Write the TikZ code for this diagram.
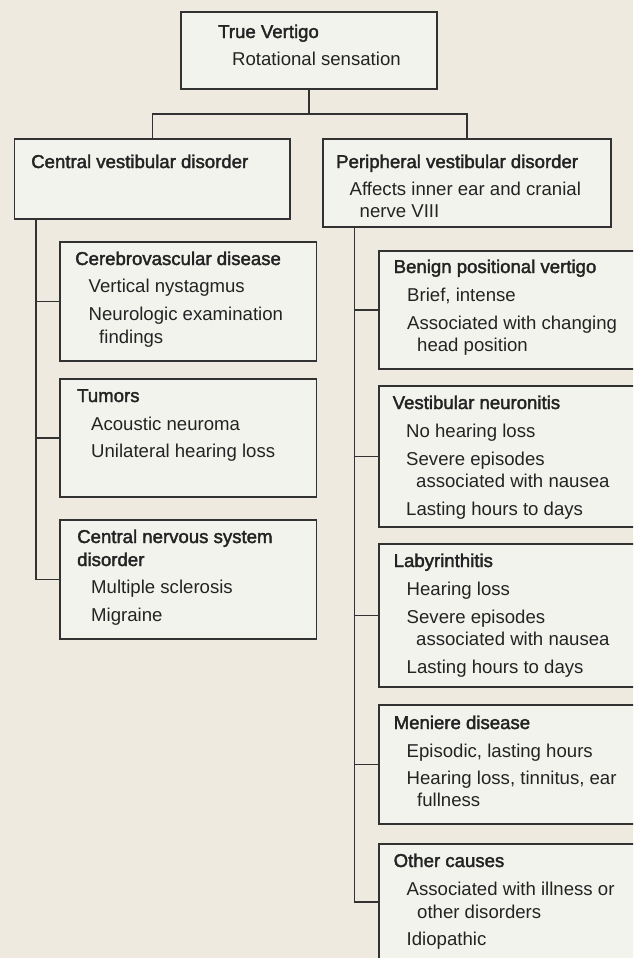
\documentclass[tikz,border=0pt]{standalone}
\usepackage{fontspec}
\setmainfont{Liberation Sans}
\newfontfamily\tifont[FakeBold=2]{Liberation Sans}
\definecolor{bgc}{RGB}{238,234,224}
\definecolor{boxc}{RGB}{243,243,238}
\definecolor{linec}{RGB}{50,50,50}
\definecolor{txtc}{RGB}{35,35,35}
\tikzset{
  boxst/.style={draw=linec, fill=boxc, line width=1.3pt, inner sep=0pt, outer sep=0pt, anchor=north west},
  conn/.style={draw=linec, line width=1.1pt},
  txt/.style={inner sep=0pt, anchor=base west, text=txtc, font=\fontsize{18.6}{22}\selectfont},
  ttl/.style={txt, font=\fontsize{18.6}{22}\selectfont\tifont}
}
\newcommand\bx[5]{\node[boxst, minimum width=#4pt, minimum height=#5pt] (#1) at (#2,#3) {};}
\newcommand\tx[4]{\node[txt] (#1) at (#2,#3) {#4};}
\newcommand\ttx[4]{\node[ttl] (#1) at (#2,#3) {#4};}
\begin{document}
\begin{tikzpicture}[x=1pt,y=-1pt]
\useasboundingbox (0,0) rectangle (633,958);
\fill[bgc] (0,0) rectangle (633,958);
\clip (0,0) rectangle (633,958);

% boxes
\bx{top}{181}{12}{256}{77}
\bx{central}{14.5}{139}{275.5}{80}
\bx{periph}{323}{139}{288}{88}
\bx{cerebro}{60}{242}{256.5}{119}
\bx{tumors}{60}{379}{256.5}{118}
\bx{cns}{60}{520}{256.5}{119}
\bx{benign}{379}{251}{271}{118}
\bx{neuro}{379}{386}{271}{141}
\bx{laby}{379}{544}{271}{143}
\bx{meniere}{379}{705}{271}{119}
\bx{other}{379}{844}{271}{116}

% connectors
\draw[conn] (top.south) -- ++(0,25) coordinate (junc);
\draw[conn] (junc) -| (central.north);
\draw[conn] (junc) -| (periph.north);
\coordinate (ltop) at ([xshift=21.5pt]central.south west);
\draw[conn] (ltop) |- (cns.west);
\draw[conn] (cerebro.west) -- (cerebro.west -| ltop);
\draw[conn] (tumors.west) -- (tumors.west -| ltop);
\coordinate (rtop) at ([xshift=31.5pt]periph.south west);
\draw[conn] (rtop) |- (other.west);
\draw[conn] (benign.west) -- (benign.west -| rtop);
\draw[conn] (neuro.west) -- (neuro.west -| rtop);
\draw[conn] (laby.west) -- (laby.west -| rtop);
\draw[conn] (meniere.west) -- (meniere.west -| rtop);

% texts
\ttx{t1}{218}{38}{True Vertigo}
\tx{t2}{232}{66}{Rotational sensation}
\ttx{c1}{31}{168}{Central vestibular disorder}
\ttx{p1}{336}{168}{Peripheral vestibular disorder}
\tx{p2}{349.5}{195}{Affects inner ear and cranial}
\tx{p3}{359.5}{217}{nerve VIII}

\ttx{cb1}{75}{265}{Cerebrovascular disease}
\tx{cb2}{88.5}{292}{Vertical nystagmus}
\tx{cb3}{88.5}{320}{Neurologic examination}
\tx{cb4}{99}{343}{findings}

\ttx{tu1}{77}{402}{Tumors}
\tx{tu2}{91}{430}{Acoustic neuroma}
\tx{tu3}{91}{457}{Unilateral hearing loss}

\ttx{cn1}{77}{543}{Central nervous system}
\ttx{cn2}{77}{566}{disorder}
\tx{cn3}{91}{593}{Multiple sclerosis}
\tx{cn4}{91}{621}{Migraine}

\ttx{b1}{393.5}{273}{Benign positional vertigo}
\tx{b2}{407}{301}{Brief, intense}
\tx{b3}{407}{329}{Associated with changing}
\tx{b4}{417}{351}{head position}

\ttx{n1}{392.5}{409}{Vestibular neuronitis}
\tx{n2}{406}{437}{No hearing loss}
\tx{n3}{406}{465}{Severe episodes}
\tx{n4}{416}{487}{associated with nausea}
\tx{n5}{406}{515}{Lasting hours to days}

\ttx{l1}{393.5}{567}{Labyrinthitis}
\tx{l2}{406.5}{595}{Hearing loss}
\tx{l3}{406.5}{623}{Severe episodes}
\tx{l4}{416}{645}{associated with nausea}
\tx{l5}{406.5}{673}{Lasting hours to days}

\ttx{m1}{393.5}{729}{Meniere disease}
\tx{m2}{406.5}{757}{Episodic, lasting hours}
\tx{m3}{406.5}{784}{Hearing loss, tinnitus, ear}
\tx{m4}{417}{806}{fullness}

\ttx{o1}{393.5}{867}{Other causes}
\tx{o2}{406.5}{895}{Associated with illness or}
\tx{o3}{417}{918}{other disorders}
\tx{o4}{406.5}{945}{Idiopathic}
\end{tikzpicture}
\end{document}
